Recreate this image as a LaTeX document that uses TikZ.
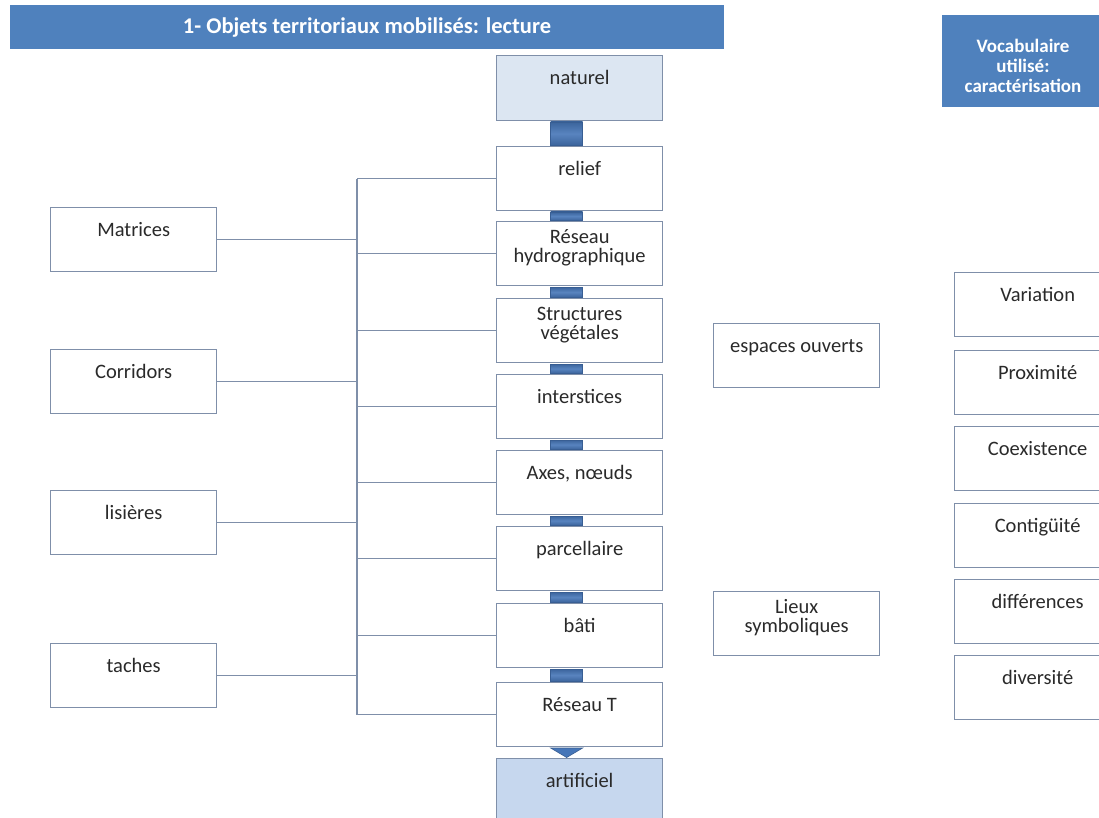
\documentclass[tikz,border=0pt]{standalone}
\usepackage{fontspec}
\setmainfont{Carlito}
\definecolor{titleblue}{HTML}{4F81BD}
\definecolor{bordercol}{HTML}{7F8FA9}
\definecolor{natfill}{HTML}{DCE6F2}
\definecolor{artfill}{HTML}{C6D7EE}
\definecolor{barcol}{HTML}{4676B8}
\definecolor{txtcol}{HTML}{2A2A2A}
\newcommand{\myst}{\rule{0pt}{20pt}}
\begin{document}
\begin{tikzpicture}[x=1pt,y=-1pt,
  box/.style={draw=bordercol, line width=1.3pt, minimum width=166pt, minimum height=64pt, inner sep=0pt, anchor=north west, fill=white},
  lbl/.style={anchor=north, inner sep=0pt, align=center, text=txtcol, font=\fontsize{20.5}{19}\selectfont},
  conn/.style={draw=bordercol, line width=1.4pt},
  bar/.style={top color=barcol!85!black, bottom color=barcol!85!black, middle color=barcol!90!white, draw=barcol!80!black, line width=0.6pt},
  hdr/.style={fill=titleblue, draw=none},
  hdrtxt/.style={text=white, inner sep=0pt, align=center, font=\bfseries\fontsize{19}{20}\selectfont}]
\useasboundingbox (0,0) rectangle (1099,818);
\clip (0,0) rectangle (1099,818);
\fill[white] (0,0) rectangle (1099,818);

% title
\node[hdr, anchor=north west, minimum width=714pt, minimum height=44pt, inner sep=0pt] (title) at (10,5) {};
\node[hdrtxt, anchor=base, font=\bfseries\fontsize{22.5}{24}\selectfont] (title-t) at (367,34) {1- Objets territoriaux mobilisés: lecture};

% vocab header
\node[hdr, anchor=north west, minimum width=162pt, minimum height=92pt, inner sep=0pt] (vocab) at (942,15) {};
\node[hdrtxt, anchor=north] (vocab-t) at (1023,32.5) {\myst Vocabulaire\\utilisé:\\caractérisation};

% central column
\node[box, fill=natfill, minimum height=65pt] (nat) at (496,55) {};
\node[box] (relief) at (496,146) {};
\node[box] (hydro) at (496,221) {};
\node[box] (struct) at (496,298) {};
\node[box] (inter) at (496,374) {};
\node[box] (axes) at (496,450) {};
\node[box] (parc) at (496,526) {};
\node[box] (bati) at (496,603) {};
\node[box] (resT) at (496,682) {};
\node[box, fill=artfill] (art) at (496,758) {};

\node[lbl] (nat-t) at ([yshift=-9pt]nat.north) {\myst naturel};
\node[lbl] (relief-t) at ([yshift=-9pt]relief.north) {\myst relief};
\node[lbl] (hydro-t) at ([yshift=-2pt]hydro.north) {\myst Réseau\\hydrographique};
\node[lbl] (struct-t) at ([yshift=-2pt]struct.north) {\myst Structures\\végétales};
\node[lbl] (inter-t) at ([yshift=-9pt]inter.north) {\myst interstices};
\node[lbl] (axes-t) at ([yshift=-9pt]axes.north) {\myst Axes, nœuds};
\node[lbl] (parc-t) at ([yshift=-9pt]parc.north) {\myst parcellaire};
\node[lbl] (bati-t) at ([yshift=-9pt]bati.north) {\myst bâti};
\node[lbl] (resT-t) at ([yshift=-9pt]resT.north) {\myst Réseau T};
\node[lbl] (art-t) at ([yshift=-9pt]art.north) {\myst artificiel};

% bars between column boxes
\foreach \a/\b in {nat/relief, relief/hydro, hydro/struct, struct/inter, inter/axes, axes/parc, parc/bati, bati/resT}{
  \path[bar] ([xshift=-29pt,yshift=-0.7pt]\a.south) rectangle ([xshift=3pt,yshift=0.7pt]\b.north);
}
\path[fill=barcol, draw=barcol!80!black, line width=0.6pt] ([xshift=-29pt,yshift=-0.7pt]resT.south) -- ([xshift=3pt,yshift=-0.7pt]resT.south)
  -- ([xshift=-13pt,yshift=0.5pt]art.north) -- cycle;

% left boxes
\node[box] (mat) at (50,207) {};
\node[box] (cor) at (50,349) {};
\node[box] (lis) at (50,490) {};
\node[box] (tac) at (50,643) {};
\node[lbl] (mat-t) at ([yshift=-9pt]mat.north) {\myst Matrices};
\node[lbl] (cor-t) at ([yshift=-9pt]cor.north) {\myst Corridors};
\node[lbl] (lis-t) at ([yshift=-9pt]lis.north) {\myst lisières};
\node[lbl] (tac-t) at ([yshift=-9pt]tac.north) {\myst taches};

% tree connectors
\coordinate (tx) at (357,0);
\draw[conn] (relief.west -| tx) -- (resT.west -| tx);
\foreach \n in {relief, hydro, struct, inter, axes, parc, bati, resT}{
  \draw[conn] (\n.west -| tx) -- (\n.west);
}
\foreach \n in {mat, cor, lis, tac}{
  \draw[conn] (\n.east) -- (\n.east -| tx);
}

% middle boxes
\node[box] (esp) at (713,323) {};
\node[box] (lieux) at (713,591) {};
\node[lbl] (esp-t) at ([yshift=-9pt]esp.north) {\myst espaces ouverts};
\node[lbl] (lieux-t) at ([yshift=-2pt]lieux.north) {\myst Lieux\\symboliques};

% right boxes
\node[box] (var) at (954,272) {};
\node[box] (prox) at (954,350) {};
\node[box] (coex) at (954,426) {};
\node[box] (cont) at (954,503) {};
\node[box] (diff) at (954,579) {};
\node[box] (div) at (954,655) {};
\node[lbl] (var-t) at ([yshift=-9pt]var.north) {\myst Variation};
\node[lbl] (prox-t) at ([yshift=-9pt]prox.north) {\myst Proximité};
\node[lbl] (coex-t) at ([yshift=-9pt]coex.north) {\myst Coexistence};
\node[lbl] (cont-t) at ([yshift=-9pt]cont.north) {\myst Contigüité};
\node[lbl] (diff-t) at ([yshift=-9pt]diff.north) {\myst différences};
\node[lbl] (div-t) at ([yshift=-9pt]div.north) {\myst diversité};
\end{tikzpicture}
\end{document}
